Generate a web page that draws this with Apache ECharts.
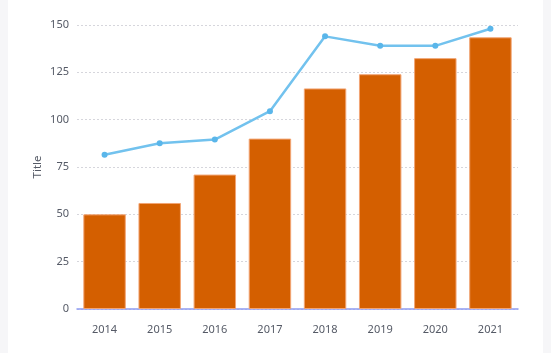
<!DOCTYPE html>
<html><head><meta charset="utf-8">
<script src="https://cdn.jsdelivr.net/npm/echarts@6/dist/echarts.min.js"></script>
<style>
html,body{margin:0;padding:0;background:#f6f6f8;}
#wrap{position:absolute;left:8px;top:0;width:535px;height:353px;background:#fff;}
#c{position:absolute;left:-8px;top:0;width:551px;height:353px;}
</style></head><body>
<div id="wrap"><div id="c"></div></div>
<script>
const categories = ['2014','2015','2016','2017','2018','2019','2020','2021'];
const barValues = [50, 56, 71, 90, 116.5, 124, 132.5, 143.5];
const lineValues = [81.5, 87.5, 89.5, 104.5, 144, 139, 139, 148];
const yTicks = {min:0, max:150, interval:25};

const chart = echarts.init(document.getElementById('c'));
chart.setOption({
  animation:false,
  textStyle:{fontFamily:'Noto Sans'},
  grid:{left:77, right:33, top:25, bottom:44},
  xAxis:{type:'category', data:categories,
    axisLine:{lineStyle:{color:'#8f9cf2', width:1.5}},
    axisTick:{show:false},
    axisLabel:{color:'#555a66', fontSize:11, margin:15}},
  yAxis:{type:'value', min:yTicks.min, max:yTicks.max, interval:yTicks.interval,
    name:'Title', nameLocation:'middle', nameGap:33, nameRotate:90, nameMoveOverlap:false,
    nameTextStyle:{color:'#555a66', fontSize:11.5},
    axisLine:{show:false}, axisTick:{show:false},
    axisLabel:{color:'#555a66', fontSize:11, margin:8},
    splitLine:{lineStyle:{color:'#d6d6dc', type:[2,2]}}},
  series:[
    {type:'bar', data:barValues, barWidth:'77%',
     itemStyle:{color:'#d45f00', borderColor:'#f2a574', borderWidth:1}},
    {type:'line', data:lineValues, symbol:'circle', symbolSize:6,
     lineStyle:{color:'#72c2ee', width:2.5}, itemStyle:{color:'#5ab6ea'}}
  ]
});
</script></body></html>
